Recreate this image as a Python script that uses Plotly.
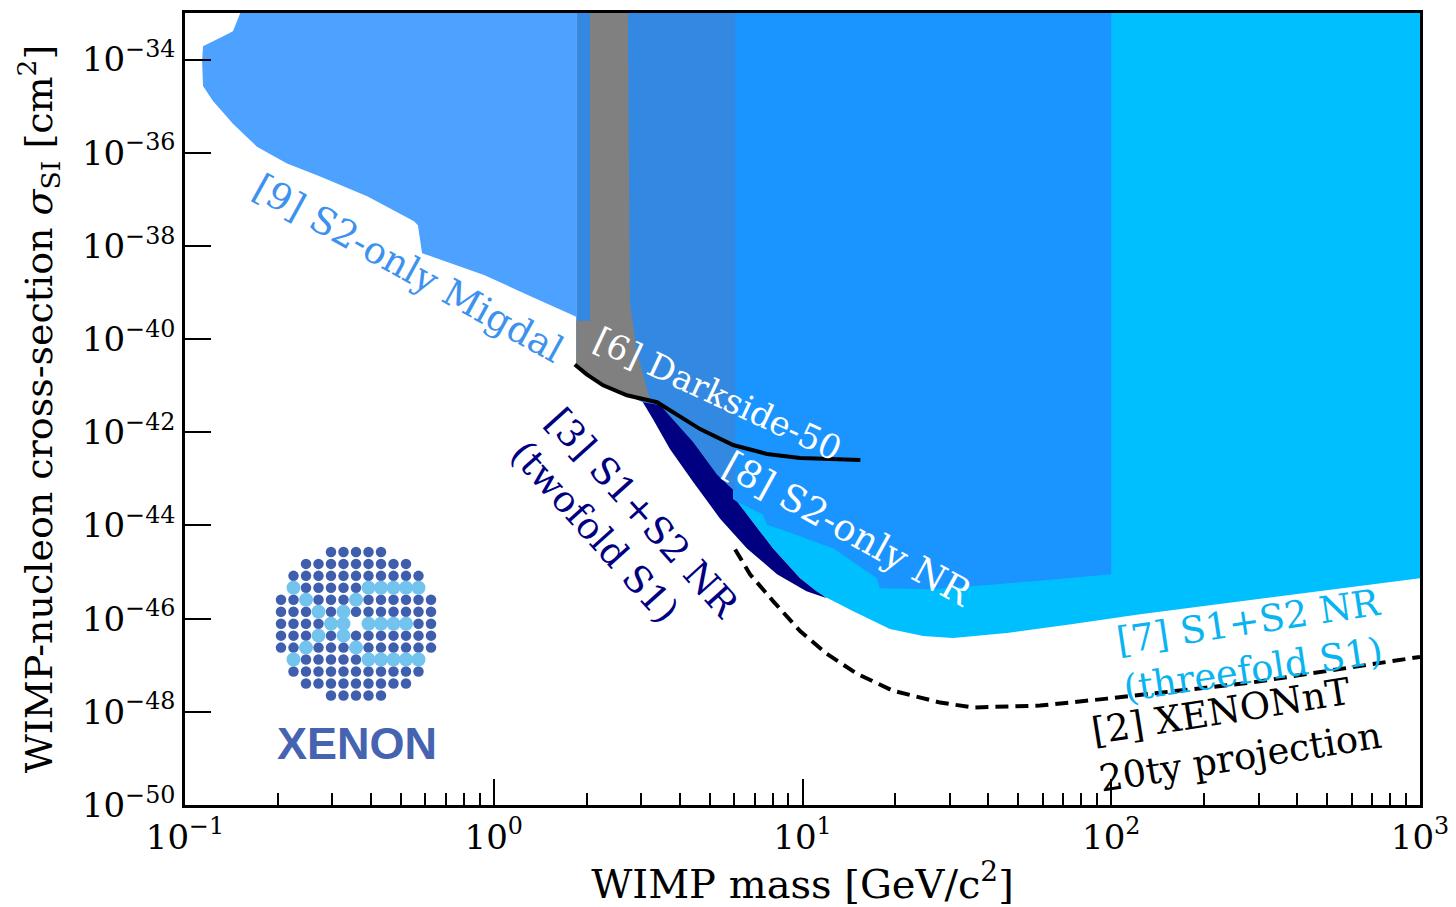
import plotly.graph_objects as go

TOP = 1e-33  # upper edge of the plotted range

# ---------------- data ----------------
# [9] XENON1T S2-only Migdal (light blue)
migdal_mass = [0.151, 0.143, 0.133, 0.1144, 0.1136, 0.1144, 0.1232, 0.143, 0.171, 0.214,
               0.274, 0.389, 0.552, 0.568, 0.586, 0.930, 1.31, 1.85, 1.85]
migdal_sigma = [TOP, 4.04e-34, 3.16e-34, 1.93e-34, 9.25e-35, 2.70e-35, 1.29e-35, 4.18e-36,
                1.35e-36, 5.85e-37, 3.09e-37, 1.16e-37, 3.38e-38, 2.78e-38, 7.01e-39,
                2.38e-39, 8.47e-40, 3.02e-40, TOP]

# S2-only NR low-mass part (medium blue)
s2low_mass = [1.85, 6.05, 6.05, 5.29, 4.42, 3.46, 3.04, 2.70, 2.26, 2.00, 1.85]
s2low_sigma = [TOP, TOP, 5.30e-44, 1.22e-43, 6.18e-43, 3.81e-42, 4.42e-42, 6.22e-42,
               1.02e-41, 1.75e-41, 2.86e-41]

# [6] DarkSide-50 excluded band (grey)
ds_band_mass = [2.05, 2.72, 2.76, 2.91, 3.21, 2.70, 2.26, 2.00, 1.85, 1.85, 2.05]
ds_band_sigma = [TOP, TOP, 6.01e-40, 5.15e-41, 4.86e-42, 6.22e-42, 1.02e-41, 1.75e-41,
                 2.86e-41, 2.48e-40, 2.48e-40]

# [6] DarkSide-50 limit line
ds_line_mass = [1.83, 2.00, 2.26, 2.70, 3.38, 3.81, 4.66, 5.96, 7.67, 9.82, 12.0, 15.4]
ds_line_sigma = [2.86e-41, 1.75e-41, 1.02e-41, 6.22e-42, 4.42e-42, 2.70e-42, 1.17e-42,
                 5.33e-43, 3.43e-43, 2.81e-43, 2.68e-43, 2.55e-43]

# [3] S1+S2 NR (twofold S1) (navy)
twofold_mass = [3.04, 3.28, 3.72, 4.42, 5.41, 6.61, 8.27, 10.3, 12.0, 11.1, 9.82, 8.03,
                6.61, 6.14, 5.96, 5.96, 3.04]
twofold_sigma = [4.42e-42, 1.91e-42, 4.38e-43, 8.65e-44, 1.40e-44, 3.21e-45, 8.95e-46,
                 3.88e-46, 2.75e-46, 3.88e-46, 7.36e-46, 3.21e-45, 1.71e-44, 3.24e-44,
                 3.75e-44, TOP, TOP]

# [7] S1+S2 NR (threefold S1) (cyan)
threefold_mass = [5.96, 5.96, 6.61, 8.03, 9.82, 11.1, 11.4, 14.6, 19.2, 24.6, 30.7, 46.0,
                  75.2, 124.0, 1000.0, 1000.0]
threefold_sigma = [TOP, 3.75e-44, 1.71e-44, 3.21e-45, 7.36e-46, 3.88e-46, 3.35e-46,
                   1.45e-46, 6.00e-47, 4.26e-47, 3.85e-47, 4.93e-47, 7.67e-47, 1.25e-46,
                   7.36e-46, TOP]

# [8] S2-only NR (blue)
s2nr_mass = [5.96, 100.0, 100.0, 55.8, 26.5, 17.8, 17.4, 12.6, 8.91, 7.67, 7.45, 6.14, 5.96]
s2nr_sigma = [TOP, TOP, 8.95e-46, 6.35e-46, 4.29e-46, 4.50e-46, 7.36e-46, 3.21e-45,
              7.41e-45, 1.04e-44, 1.71e-44, 3.24e-44, 3.75e-44]

# [2] XENONnT 20 t·y projection (dashed)
nt_mass = [6.05, 6.76, 8.03, 9.82, 12.0, 15.0, 19.6, 27.9, 35.7, 58.8, 96.9, 282.0, 1000.0]
nt_sigma = [3.06e-45, 8.95e-46, 2.38e-46, 5.43e-47, 1.75e-47, 6.58e-48, 2.85e-48,
            1.58e-48, 1.24e-48, 1.36e-48, 1.92e-48, 4.22e-48, 1.51e-47]

# axis ticks
x_tick_vals = [0.1, 1, 10, 100, 1000]
x_tick_text = ["10<sup>\u22121</sup>", "10<sup>0</sup>", "10<sup>1</sup>",
               "10<sup>2</sup>", "10<sup>3</sup>"]
x_minor_vals = [d * m for d in (0.1, 1, 10, 100) for m in range(2, 10)]
y_exponents = [-50, -48, -46, -44, -42, -40, -38, -36, -34]
y_tick_vals = [10.0 ** e for e in y_exponents]
y_tick_text = ["10<sup>\u2212%d</sup>" % (-e) for e in y_exponents]

# XENON logo pattern: dots per row (top to bottom) and light-blue dots (row -> columns)
logo_row_counts = [5, 9, 11, 11, 13, 13, 13, 13, 13, 11, 11, 9, 5]
logo_light = {3: [-5, 1, 2, 3, 4, 5], 4: [-4, 0], 5: [-3, -1], 6: [-2, -1, 1, 2, 3, 4],
              7: [-3, -1], 8: [-4, 0], 9: [-5, 1, 2, 3, 4, 5]}
logo_missing = {6: [0]}

# ---------------- colours ----------------
C_MIGDAL = "#4da1ff"
C_S2LOW = "#3389e1"
C_S2NR = "#1a94ff"
C_THREE = "#00bfff"
C_TWO = "#000080"
C_GREY = "#808080"

SERIF = "DejaVu Serif"

fig = go.Figure()


def region(mx, sy, color, name):
    fig.add_trace(go.Scatter(x=mx, y=sy, mode="lines", fill="toself", fillcolor=color,
                             line=dict(width=0, color=color), name=name,
                             hoverinfo="skip", showlegend=False))


region(threefold_mass, threefold_sigma, C_THREE, "[7] S1+S2 NR (threefold S1)")
region(twofold_mass, twofold_sigma, C_TWO, "[3] S1+S2 NR (twofold S1)")
region(s2nr_mass, s2nr_sigma, C_S2NR, "[8] S2-only NR")
region(s2low_mass, s2low_sigma, C_S2LOW, "S2-only NR low mass")
region(migdal_mass, migdal_sigma, C_MIGDAL, "[9] S2-only Migdal")
region(ds_band_mass, ds_band_sigma, C_GREY, "[6] Darkside-50 band")

fig.add_trace(go.Scatter(x=ds_line_mass, y=ds_line_sigma, mode="lines",
                         line=dict(color="black", width=4), showlegend=False,
                         hoverinfo="skip"))
fig.add_trace(go.Scatter(x=nt_mass, y=nt_sigma, mode="lines",
                         line=dict(color="black", width=4, dash="13px,7px"),
                         showlegend=False, hoverinfo="skip"))

# logo dots on an inset axis
dark_x, dark_y, light_x, light_y = [], [], [], []
n_rows = len(logo_row_counts)
for r, cnt in enumerate(logo_row_counts):
    half = cnt // 2
    yv = (n_rows // 2) - r
    for c in range(-half, half + 1):
        if c in logo_missing.get(r, []):
            continue
        if c in logo_light.get(r, []):
            light_x.append(c)
            light_y.append(yv)
        else:
            dark_x.append(c)
            dark_y.append(yv)

fig.add_trace(go.Scatter(x=dark_x, y=dark_y, mode="markers", xaxis="x2", yaxis="y2",
                         marker=dict(size=10.5, color="#3f5fae", line=dict(width=0)),
                         cliponaxis=False, showlegend=False, hoverinfo="skip"))
fig.add_trace(go.Scatter(x=light_x, y=light_y, mode="markers", xaxis="x2", yaxis="y2",
                         marker=dict(size=14, color="#72c4ee", line=dict(width=0)),
                         cliponaxis=False, showlegend=False, hoverinfo="skip"))

# ---------------- layout ----------------
# the page body has an 8 px margin, so the figure is sized to end at the window edge
OFF = 8
W, H = 1456 - OFF, 907 - OFF
PL, PR, PT, PB = 185, 1420, 10, 805          # plot-area edges in page pixels
ML, MR, MT, MB = PL - OFF, 1456 - PR, PT - OFF, 907 - PB


def px(xp):
    return (xp - PL) / (PR - PL)


def py(yp):
    return (PB - yp) / (PB - PT)


axis_common = dict(showline=True, linecolor="black", linewidth=2.5, mirror=True,
                   showgrid=False, zeroline=False, ticks="inside", ticklen=26,
                   tickwidth=2.2, tickcolor="black",
                   tickfont=dict(family=SERIF, size=34, color="black"))

fig.update_layout(
    width=W, height=H,
    margin=dict(l=ML, r=MR, t=MT, b=MB),
    plot_bgcolor="white", paper_bgcolor="white",
    xaxis=dict(type="log", range=[-1, 3], tickmode="array", tickvals=x_tick_vals,
               ticktext=x_tick_text,
               minor=dict(tickmode="array", tickvals=x_minor_vals, ticks="inside",
                          ticklen=12, tickwidth=2.2, tickcolor="black", showgrid=False),
               title=dict(text="WIMP mass [GeV/c<sup>2</sup>]",
                          font=dict(family=SERIF, size=40, color="black"), standoff=6),
               **axis_common),
    yaxis=dict(type="log", range=[-50, -33], tickmode="array", tickvals=y_tick_vals,
               ticktext=y_tick_text,
               title=dict(text="WIMP-nucleon cross-section <i>\u03c3</i><sub>SI</sub> [cm<sup>2</sup>]",
                          font=dict(family=SERIF, size=38, color="black"), standoff=18),
               **axis_common),
    xaxis2=dict(domain=[px(274), px(438)], range=[-6.56, 6.56], visible=False,
                anchor="y2", fixedrange=True),
    yaxis2=dict(domain=[py(695), py(551)], range=[-6.0, 6.0], visible=False,
                anchor="x2", fixedrange=True),
)

ann_font = dict(family=SERIF, size=37)
annotations = [
    dict(text="[9] S2-only Migdal", x=px(408), y=py(266), textangle=29,
         font=dict(ann_font, color="#3d92ee")),
    dict(text="[6] Darkside-50", x=px(718), y=py(392), textangle=25,
         font=dict(ann_font, size=34, color="white")),
    dict(text="[8] S2-only NR", x=px(848), y=py(528), textangle=29,
         font=dict(ann_font, color="white")),
    dict(text="[3] S1+S2 NR<br>(twofold S1)", x=px(625), y=py(528), textangle=48,
         font=dict(ann_font, color=C_TWO), align="left"),
    dict(text="[7] S1+S2 NR<br>(threefold S1)", x=px(1252), y=py(645), textangle=-8.5,
         font=dict(ann_font, color="#0ab4f0"), align="left"),
    dict(text="[2] XENONnT<br>20ty projection", x=px(1236), y=py(733), textangle=-9,
         font=dict(ann_font, color="black"), align="left"),
    dict(text="<b>XENON</b>", x=px(357), y=py(743),
         font=dict(family="Liberation Sans", size=45, color="#4563b0")),
]
for a in annotations:
    a.update(xref="paper", yref="paper", showarrow=False, xanchor="center", yanchor="middle")
fig.update_layout(annotations=annotations)

fig.write_html("out.html")
